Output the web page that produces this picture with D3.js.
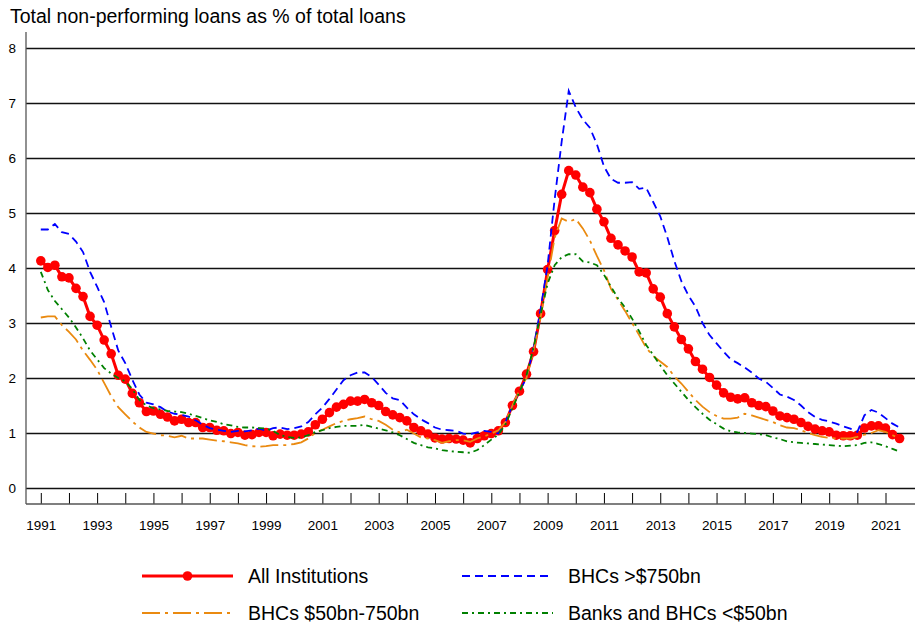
<!DOCTYPE html>
<html>
<head>
<meta charset="utf-8">
<script src="https://cdn.jsdelivr.net/npm/d3@7"></script>
<style>
  body { margin: 0; background: #fff; }
  svg { display: block; font-family: "Liberation Sans", Arial, sans-serif; }
</style>
</head>
<body>
<div id="chart"></div>
<script>
// quarterly values, 1991Q1 .. 2021Q3
var startYear = 1991;
var yearTicks = d3.range(1991, 2022);
var yTicks = [0, 1, 2, 3, 4, 5, 6, 7, 8];

var allInstitutions = [4.13, 4.01, 4.05, 3.84, 3.82, 3.63, 3.48, 3.12, 2.96, 2.69, 2.44, 2.05, 1.98, 1.72, 1.55, 1.39,
  1.40, 1.34, 1.29, 1.22, 1.25, 1.19, 1.19, 1.10, 1.10, 1.05, 1.04, 0.99, 1.01, 0.96, 0.97, 1.01,
  1.01, 0.95, 0.98, 0.96, 0.96, 0.98, 1.02, 1.15, 1.25, 1.37, 1.47, 1.52, 1.58, 1.58, 1.61, 1.55,
  1.50, 1.39, 1.33, 1.28, 1.22, 1.10, 1.04, 0.98, 0.91, 0.89, 0.90, 0.89, 0.87, 0.82, 0.90, 0.95,
  0.99, 1.04, 1.19, 1.50, 1.76, 2.07, 2.48, 3.17, 3.97, 4.68, 5.34, 5.77, 5.69, 5.47, 5.37, 5.07,
  4.84, 4.54, 4.42, 4.31, 4.20, 3.93, 3.91, 3.62, 3.47, 3.17, 2.93, 2.70, 2.53, 2.30, 2.16, 2.01,
  1.87, 1.73, 1.65, 1.62, 1.64, 1.55, 1.50, 1.48, 1.40, 1.31, 1.28, 1.25, 1.19, 1.12, 1.07, 1.04,
  1.02, 0.96, 0.95, 0.95, 0.96, 1.09, 1.13, 1.13, 1.09, 0.97, 0.90];

var bhcsOver750 = [4.70, 4.70, 4.80, 4.65, 4.62, 4.48, 4.29, 3.93, 3.66, 3.38, 2.93, 2.50, 2.27, 1.97, 1.70, 1.55,
  1.52, 1.47, 1.39, 1.35, 1.33, 1.30, 1.23, 1.15, 1.09, 1.06, 1.04, 1.02, 1.04, 1.03, 1.05, 1.08,
  1.04, 1.09, 1.10, 1.07, 1.09, 1.12, 1.20, 1.34, 1.46, 1.62, 1.79, 1.96, 2.05, 2.10, 2.10, 2.02,
  1.88, 1.73, 1.63, 1.60, 1.46, 1.34, 1.25, 1.18, 1.10, 1.06, 1.05, 1.04, 0.99, 0.98, 1.01, 1.04,
  1.02, 0.99, 1.20, 1.50, 1.76, 2.00, 2.55, 3.25, 4.05, 5.25, 6.30, 7.22, 6.92, 6.70, 6.55, 6.25,
  5.85, 5.62, 5.55, 5.55, 5.56, 5.44, 5.46, 5.20, 4.94, 4.56, 4.13, 3.76, 3.50, 3.30, 3.00, 2.78,
  2.63, 2.48, 2.34, 2.27, 2.19, 2.10, 1.99, 1.93, 1.82, 1.70, 1.66, 1.60, 1.50, 1.38, 1.29, 1.24,
  1.21, 1.17, 1.12, 1.08, 1.02, 1.32, 1.42, 1.37, 1.27, 1.17, 1.10];

var bhcs50to750 = [3.10, 3.12, 3.12, 2.96, 2.84, 2.70, 2.50, 2.33, 2.15, 1.91, 1.67, 1.47, 1.34, 1.21, 1.10, 1.02,
  0.99, 0.96, 0.95, 0.92, 0.95, 0.90, 0.90, 0.90, 0.88, 0.86, 0.85, 0.83, 0.81, 0.78, 0.76, 0.75,
  0.76, 0.78, 0.78, 0.78, 0.80, 0.83, 0.90, 1.00, 1.06, 1.12, 1.18, 1.22, 1.25, 1.27, 1.30, 1.25,
  1.22, 1.15, 1.06, 1.01, 1.06, 0.99, 0.92, 0.90, 0.87, 0.82, 0.85, 0.87, 0.87, 0.84, 0.90, 0.94,
  0.99, 1.05, 1.20, 1.50, 1.78, 2.00, 2.50, 3.10, 3.82, 4.55, 4.90, 4.84, 4.89, 4.72, 4.50, 4.22,
  3.96, 3.62, 3.42, 3.22, 3.00, 2.78, 2.55, 2.40, 2.30, 2.20, 2.03, 1.90, 1.75, 1.60, 1.48, 1.38,
  1.31, 1.26, 1.26, 1.28, 1.35, 1.32, 1.28, 1.24, 1.20, 1.14, 1.10, 1.09, 1.05, 1.00, 0.96, 0.93,
  0.91, 0.90, 0.90, 0.90, 0.93, 0.97, 1.00, 1.05, 1.02, 0.96, 0.90];

var banksUnder50 = [3.93, 3.60, 3.40, 3.25, 3.10, 2.92, 2.72, 2.50, 2.34, 2.18, 2.08, 2.00, 1.94, 1.80, 1.60, 1.50,
  1.45, 1.43, 1.40, 1.39, 1.38, 1.35, 1.31, 1.27, 1.23, 1.20, 1.16, 1.14, 1.11, 1.10, 1.10, 1.09,
  1.08, 1.04, 0.96, 0.93, 0.91, 0.92, 0.96, 1.02, 1.05, 1.09, 1.11, 1.13, 1.13, 1.13, 1.15, 1.11,
  1.08, 1.05, 1.01, 0.96, 0.89, 0.82, 0.78, 0.74, 0.72, 0.69, 0.67, 0.66, 0.65, 0.64, 0.69, 0.78,
  0.88, 0.97, 1.15, 1.45, 1.75, 2.05, 2.55, 3.15, 3.72, 4.05, 4.20, 4.25, 4.25, 4.12, 4.10, 4.05,
  3.88, 3.66, 3.45, 3.28, 3.08, 2.85, 2.60, 2.42, 2.23, 2.05, 1.90, 1.75, 1.60, 1.47, 1.35, 1.24,
  1.16, 1.08, 1.03, 1.01, 1.00, 0.99, 0.98, 0.96, 0.92, 0.89, 0.85, 0.83, 0.82, 0.81, 0.80, 0.79,
  0.78, 0.77, 0.76, 0.77, 0.78, 0.82, 0.83, 0.80, 0.76, 0.71, 0.66];

var seriesNames = ["All Institutions", "BHCs >$750bn", "BHCs $50bn-750bn", "Banks and BHCs <$50bn"];

var width = 915, height = 623;
var margins = { left: 26, right: 0, top: 32, bottom: 119 };

var svg = d3.select("#chart").append("svg")
  .attr("width", width)
  .attr("height", height);

var xScale = d3.scaleLinear().domain([1991, 2021]).range([40.8, 885.5]);
var yScale = d3.scaleLinear().domain([0, 8]).range([488, 48]);

// title
svg.append("text")
  .attr("x", 10)
  .attr("y", 23)
  .attr("font-size", "19.5px")
  .attr("fill", "#000")
  .text("Total non-performing loans as % of total loans");

// gridlines
svg.append("g")
  .attr("transform", `translate(${margins.left},0)`)
  .call(d3.axisLeft(yScale).tickValues(yTicks).tickSize(-(width - margins.left)).tickFormat(""))
  .call(function (g) { g.select(".domain").remove(); })
  .selectAll("line")
  .attr("stroke", "#111")
  .attr("stroke-width", 1.3);

// y labels
svg.append("g")
  .attr("transform", `translate(${margins.left},0)`)
  .call(d3.axisLeft(yScale).tickValues(yTicks).tickSize(0).tickPadding(10).tickFormat(d3.format("d")))
  .call(function (g) { g.select(".domain").remove(); })
  .selectAll("text")
  .attr("font-size", "13.5px")
  .attr("font-family", "Liberation Sans, Arial, sans-serif")
  .attr("fill", "#000");

// y axis line
svg.append("line")
  .attr("x1", margins.left).attr("x2", margins.left)
  .attr("y1", margins.top).attr("y2", 504)
  .attr("stroke", "#555").attr("stroke-width", 1.3);

// x axis
var xAxis = d3.axisBottom(xScale)
  .tickValues(yearTicks)
  .tickSizeInner(-11)
  .tickSizeOuter(0)
  .tickPadding(16)
  .tickFormat(function (d) { return (d - 1991) % 2 === 0 ? d : ""; });

svg.append("g")
  .attr("transform", "translate(0,504)")
  .call(xAxis)
  .call(function (g) { g.select(".domain").remove(); })
  .call(function (g) {
    g.selectAll("line").attr("stroke", "#000").attr("stroke-width", 1);
    g.selectAll("text").attr("font-size", "13.5px")
      .attr("font-family", "Liberation Sans, Arial, sans-serif").attr("fill", "#000");
  });

svg.append("line")
  .attr("x1", margins.left).attr("x2", width)
  .attr("y1", 504).attr("y2", 504)
  .attr("stroke", "#555").attr("stroke-width", 1.5);

// lines
var line = d3.line()
  .x(function (d, i) { return xScale(startYear + i / 4); })
  .y(function (d) { return yScale(d); });

var styles = [
  { color: "#ff0000", width: 3, dash: null },
  { color: "#0000ff", width: 1.8, dash: "8,5" },
  { color: "#ea8a10", width: 1.8, dash: "18,5,3,5" },
  { color: "#008000", width: 1.8, dash: "6,4,2,4" }
];
var allSeries = [allInstitutions, bhcsOver750, bhcs50to750, banksUnder50];

svg.append("path")
  .datum(allInstitutions)
  .attr("fill", "none")
  .attr("stroke", styles[0].color)
  .attr("stroke-width", styles[0].width)
  .attr("d", line);

svg.selectAll("circle.dot")
  .data(allInstitutions)
  .enter()
  .append("circle")
  .attr("class", "dot")
  .attr("cx", function (d, i) { return xScale(startYear + i / 4); })
  .attr("cy", function (d) { return yScale(d); })
  .attr("r", 4.8)
  .attr("fill", "#ff0000");

[1, 2, 3].forEach(function (k) {
  svg.append("path")
    .datum(allSeries[k])
    .attr("fill", "none")
    .attr("stroke", styles[k].color)
    .attr("stroke-width", styles[k].width)
    .attr("stroke-dasharray", styles[k].dash)
    .attr("d", line);
});

// legend
var legendPos = [
  { x: 142, y: 576 }, { x: 462, y: 576 },
  { x: 142, y: 613 }, { x: 462, y: 613 }
];
var legend = svg.append("g").attr("class", "legend");
seriesNames.forEach(function (name, k) {
  var p = legendPos[k];
  var len = 91;
  legend.append("line")
    .attr("x1", p.x).attr("x2", p.x + len)
    .attr("y1", p.y).attr("y2", p.y)
    .attr("stroke", styles[k].color)
    .attr("stroke-width", styles[k].width)
    .attr("stroke-dasharray", styles[k].dash);
  if (k === 0) {
    legend.append("circle")
      .attr("cx", p.x + len / 2).attr("cy", p.y).attr("r", 4.8)
      .attr("fill", styles[0].color);
  }
  legend.append("text")
    .attr("x", p.x + len + 15)
    .attr("y", p.y)
    .attr("dy", "0.35em")
    .attr("font-size", "19.5px")
    .text(name);
});
</script>
</body>
</html>
